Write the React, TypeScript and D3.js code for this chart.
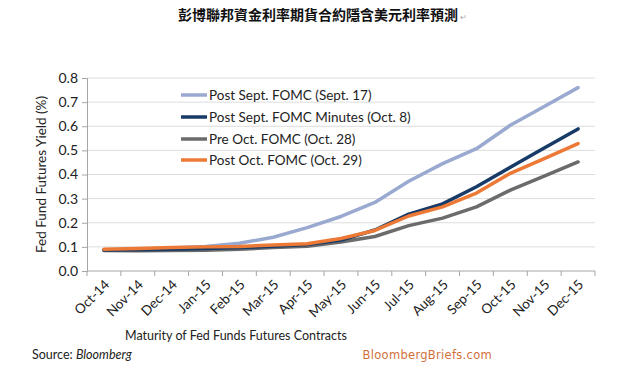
import { useEffect, useRef } from "react";
import * as d3 from "d3";

const months = ["Oct-14", "Nov-14", "Dec-14", "Jan-15", "Feb-15", "Mar-15", "Apr-15", "May-15", "Jun-15", "Jul-15", "Aug-15", "Sep-15", "Oct-15", "Nov-15", "Dec-15"];
const postSept = [0.088, 0.09, 0.095, 0.102, 0.115, 0.14, 0.18, 0.226, 0.284, 0.372, 0.445, 0.507, 0.604, 0.682, 0.76];
const postMinutes = [0.087, 0.088, 0.09, 0.093, 0.097, 0.103, 0.11, 0.128, 0.17, 0.236, 0.278, 0.349, 0.43, 0.51, 0.589];
const preOct = [0.085, 0.084, 0.085, 0.086, 0.09, 0.097, 0.103, 0.12, 0.143, 0.188, 0.219, 0.266, 0.335, 0.393, 0.452];
const postOct = [0.09, 0.093, 0.097, 0.1, 0.102, 0.108, 0.113, 0.135, 0.168, 0.228, 0.266, 0.323, 0.405, 0.466, 0.528];
const seriesNames = ["Post Sept. FOMC (Sept. 17)", "Post Sept. FOMC Minutes (Oct. 8)", "Pre Oct. FOMC (Oct. 28)", "Post Oct. FOMC (Oct. 29)"];
const seriesColors = ["#9aa9d0", "#173a66", "#6b6b6b", "#ec7a36"];
const yTicks = [0, 0.1, 0.2, 0.3, 0.4, 0.5, 0.6, 0.7, 0.8];

const App = () => {
    const svgRef = useRef<SVGSVGElement>(null);
    const W = 620;
    const H = 370;
    const margin = { top: 78, right: 25, bottom: 99, left: 87 };

    useEffect(() => {
        const svg = d3.select(svgRef.current);
        svg.selectAll("*").remove();
        const font = "Lato, 'Open Sans', sans-serif";

        const x = d3.scaleBand().domain(months).range([margin.left, W - margin.right]);
        const y = d3.scaleLinear().domain([0, 0.8]).range([H - margin.bottom, margin.top]);

        // title
        svg.append("text")
            .attr("x", 318).attr("y", 20)
            .attr("text-anchor", "middle")
            .style("font-family", "'Noto Sans CJK TC', sans-serif")
            .style("font-size", "14px")
            .style("font-weight", "bold")
            .style("fill", "#111")
            .text("彭博聯邦資金利率期貨合約隱含美元利率預測");
        svg.append("text")
            .attr("x", 460).attr("y", 20)
            .style("font-family", font)
            .style("font-size", "8px")
            .style("fill", "#aaa")
            .text("↵");

        // gridlines
        svg.append("g")
            .selectAll("line")
            .data(yTicks.slice(1))
            .enter()
            .append("line")
            .attr("x1", margin.left).attr("x2", W - margin.right)
            .attr("y1", (d) => y(d)).attr("y2", (d) => y(d))
            .style("stroke", "#dcdcdc");

        // y axis
        const yAxis = d3.axisLeft(y).tickValues(yTicks).tickFormat(d3.format(".1f")).tickSize(5).tickPadding(4);
        const gy = svg.append("g")
            .attr("transform", `translate(${margin.left}, 0)`)
            .call(yAxis);
        gy.select(".domain").style("stroke", "#a6a6a6");
        gy.selectAll(".tick line").style("stroke", "#a6a6a6");
        gy.selectAll(".tick text").style("font-family", font).style("font-size", "14px").style("fill", "#222");

        // x axis: ticks at category boundaries
        const base = H - margin.bottom;
        svg.append("line")
            .attr("x1", margin.left).attr("x2", W - margin.right)
            .attr("y1", base).attr("y2", base)
            .style("stroke", "#a6a6a6");
        svg.append("g")
            .selectAll("line")
            .data(months.concat(["end"]))
            .enter()
            .append("line")
            .attr("x1", (d, i) => margin.left + i * x.step())
            .attr("x2", (d, i) => margin.left + i * x.step())
            .attr("y1", base).attr("y2", base + 5)
            .style("stroke", "#a6a6a6");
        svg.append("g")
            .selectAll("text")
            .data(months)
            .enter()
            .append("text")
            .attr("transform", (d) => `translate(${(x(d) as number) + x.bandwidth() / 2 + 3}, ${base + 11}) rotate(-45)`)
            .attr("text-anchor", "end")
            .attr("dy", "0.35em")
            .style("font-family", font)
            .style("font-size", "13.5px")
            .style("fill", "#222")
            .text((d) => d);

        // axis titles
        svg.append("text")
            .attr("transform", `translate(46, ${(margin.top + base) / 2}) rotate(-90)`)
            .attr("text-anchor", "middle")
            .style("font-family", font)
            .style("font-size", "13.5px")
            .style("fill", "#222")
            .text("Fed Fund Futures Yield (%)");
        svg.append("text")
            .attr("x", 236).attr("y", 340)
            .attr("text-anchor", "middle")
            .style("font-family", font)
            .style("font-size", "12.5px")
            .style("fill", "#222")
            .text("Maturity of Fed Funds Futures Contracts");

        // lines
        const allSeries = [postSept, postMinutes, preOct, postOct];
        const line = d3.line<number>()
            .x((d, i) => (x(months[i]) as number) + x.bandwidth() / 2)
            .y((d) => y(d));
        const drawOrder = [0, 2, 1, 3];
        drawOrder.forEach((k) => {
            svg.append("path")
                .datum(allSeries[k])
                .attr("d", line)
                .style("fill", "none")
                .style("stroke", seriesColors[k])
                .style("stroke-width", 3.5)
                .style("stroke-linejoin", "round")
                .style("stroke-linecap", "round");
        });

        // legend
        const legendY = [95, 117, 139, 160];
        seriesNames.forEach((name, i) => {
            svg.append("line")
                .attr("x1", 181).attr("x2", 207)
                .attr("y1", legendY[i]).attr("y2", legendY[i])
                .style("stroke", seriesColors[i])
                .style("stroke-width", 3.5);
            svg.append("text")
                .attr("x", 209).attr("y", legendY[i])
                .attr("dy", "0.35em")
                .style("font-family", font)
                .style("font-size", "13.5px")
                .style("fill", "#222")
                .text(name);
        });

        // footer
        const src = svg.append("text")
            .attr("x", 32).attr("y", 359)
            .style("font-family", font)
            .style("font-size", "12.5px")
            .style("fill", "#222");
        src.append("tspan").text("Source: ");
        src.append("tspan").style("font-style", "italic").text("Bloomberg");
        svg.append("text")
            .attr("x", 492).attr("y", 359)
            .attr("text-anchor", "end")
            .style("font-family", "'DejaVu Sans', sans-serif")
            .style("font-size", "11.5px")
            .style("letter-spacing", "0.3px")
            .style("fill", "#d2703a")
            .text("BloombergBriefs.com");
    }, []);

    return (
        <svg ref={svgRef} width={W} height={H} viewBox={`0 0 ${W} ${H}`}
            style={{ display: "block", margin: "-8px", background: "#fff" }}></svg>
    );
};

export default App;
